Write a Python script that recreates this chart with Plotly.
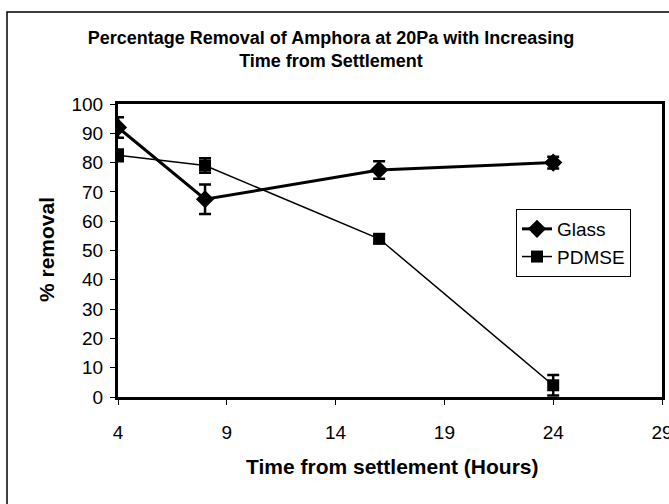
import plotly.graph_objects as go

hours = [4, 8, 16, 24]
glass = [92, 67.5, 77.5, 80]
glass_err = [3.5, 5, 3, 2]
pdmse = [82.5, 79, 54, 4]
pdmse_err = [2, 2.5, 1.5, 3.5]

x_ticks = [4, 9, 14, 19, 24, 29]
y_ticks = list(range(0, 101, 10))

FONT = "Liberation Sans, Arial, sans-serif"

fig = go.Figure()
fig.add_trace(go.Scatter(
    x=hours, y=glass, name="Glass", mode="lines+markers",
    line=dict(color="black", width=3),
    marker=dict(symbol="diamond", size=14, color="black"),
    error_y=dict(type="data", array=glass_err, color="black", thickness=2.5, width=6),
))
fig.add_trace(go.Scatter(
    x=hours, y=pdmse, name="PDMSE", mode="lines+markers",
    line=dict(color="black", width=1.5),
    marker=dict(symbol="square", size=12, color="black"),
    error_y=dict(type="data", array=pdmse_err, color="black", thickness=2.5, width=6),
))

L, R, T, B = 118, 662, 104, 397
W, H = 690, 504

def px_x(p):
    return (p - L) / (R - L)

def px_y(p):
    return (B - p) / (B - T)

fig.add_shape(type="rect", xref="paper", yref="paper",
              x0=px_x(7), x1=px_x(685), y0=px_y(12), y1=px_y(530),
              line=dict(color="black", width=1.5), layer="below")

fig.add_annotation(text="<b>Time from settlement (Hours)</b>", xref="paper", yref="paper",
                   x=px_x(392), y=px_y(466), xanchor="center", yanchor="middle",
                   showarrow=False, font=dict(family=FONT, size=21, color="black"))
fig.add_annotation(text="<b>% removal</b>", xref="paper", yref="paper",
                   x=px_x(46), y=px_y(250), xanchor="center", yanchor="middle",
                   textangle=-90, showarrow=False,
                   font=dict(family=FONT, size=21, color="black"))

fig.update_layout(
    width=W, height=H,
    margin=dict(l=L, r=W - R, t=T, b=H - B, pad=0),
    paper_bgcolor="white", plot_bgcolor="white",
    font=dict(family=FONT, color="black", size=19),
    title=dict(text="<b>Percentage Removal of Amphora at 20Pa with Increasing<br>Time from Settlement</b>",
               x=331 / W, xanchor="center", y=1 - 44 / H, yanchor="top",
               font=dict(family=FONT, size=18, color="black")),
    showlegend=True,
    legend=dict(x=px_x(516), y=px_y(209), xanchor="left", yanchor="top",
                bordercolor="black", borderwidth=1, bgcolor="white",
                font=dict(family=FONT, size=19, color="black"),
                tracegroupgap=0),
    xaxis=dict(range=[4, 29], tickmode="array", tickvals=x_ticks,
               ticks="outside", ticklen=5, tickwidth=1, tickcolor="black",
               showline=True, linecolor="black", linewidth=3, mirror=True,
               showgrid=False, zeroline=False, automargin=False,
               ticklabelstandoff=11,
               tickfont=dict(size=19)),
    yaxis=dict(range=[0, 100], tickmode="array", tickvals=y_ticks,
               ticks="outside", ticklen=5, tickwidth=1, tickcolor="black",
               showline=True, linecolor="black", linewidth=3, mirror=True,
               showgrid=False, zeroline=False, automargin=False,
               ticklabelstandoff=3,
               tickfont=dict(size=19)),
)

fig.write_html("out.html",
               config={"displayModeBar": False},
               post_script="document.body.style.margin='0';document.body.style.padding='0';"
                           "document.body.style.overflow='hidden';"
                           "document.documentElement.style.overflow='hidden';")
